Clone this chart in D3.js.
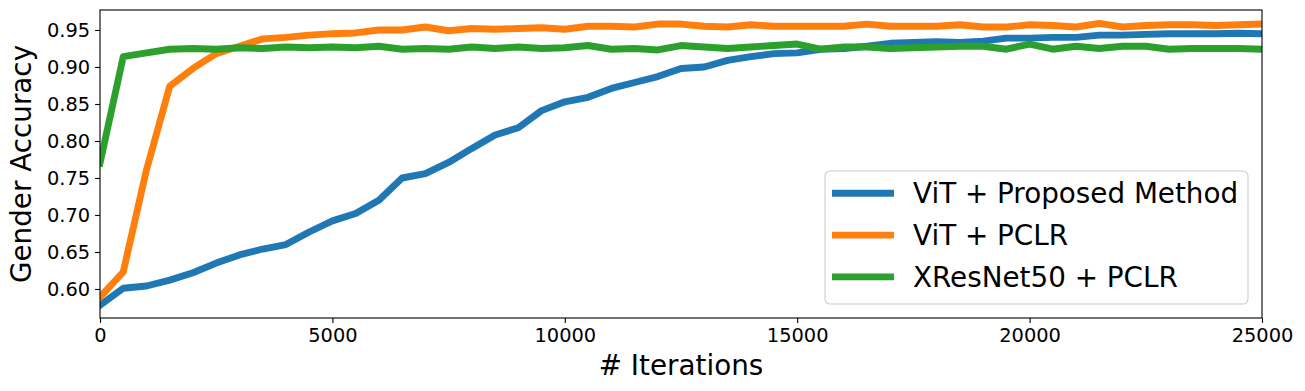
<!DOCTYPE html>
<html>
<head>
<meta charset="utf-8">
<script src="https://cdn.jsdelivr.net/npm/d3@7"></script>
<style>
  body { margin: 0; background: #fff; }
  svg { display: block; font-family: "DejaVu Sans", sans-serif; }
</style>
</head>
<body>
<div id="chart"></div>
<script>
// iterations (x)
const iterations = [0, 500, 1000, 1500, 2000, 2500, 3000, 3500, 4000, 4500,
  5000, 5500, 6000, 6500, 7000, 7500, 8000, 8500, 9000, 9500,
  10000, 10500, 11000, 11500, 12000, 12500, 13000, 13500, 14000, 14500,
  15000, 15500, 16000, 16500, 17000, 17500, 18000, 18500, 19000, 19500,
  20000, 20500, 21000, 21500, 22000, 22500, 23000, 23500, 24000, 24500, 25000];

const vitProposed = [0.578, 0.601, 0.604, 0.612, 0.622, 0.635, 0.646, 0.654, 0.660, 0.677,
  0.692, 0.702, 0.720, 0.750, 0.756, 0.771, 0.790, 0.808, 0.818, 0.841,
  0.853, 0.859, 0.871, 0.879, 0.887, 0.898, 0.900, 0.909, 0.914, 0.918,
  0.919, 0.924, 0.925, 0.928, 0.932, 0.933, 0.934, 0.933, 0.935, 0.939,
  0.939, 0.940, 0.940, 0.943, 0.943, 0.944, 0.945, 0.945, 0.945, 0.9455, 0.945];

const vitPclr = [0.589, 0.623, 0.761, 0.874, 0.898, 0.918, 0.928, 0.938, 0.940, 0.943,
  0.945, 0.946, 0.950, 0.950, 0.954, 0.949, 0.952, 0.951, 0.952, 0.953,
  0.951, 0.955, 0.955, 0.954, 0.958, 0.958, 0.955, 0.954, 0.957, 0.955,
  0.955, 0.955, 0.955, 0.958, 0.955, 0.955, 0.955, 0.957, 0.954, 0.954,
  0.957, 0.956, 0.954, 0.959, 0.954, 0.956, 0.957, 0.957, 0.956, 0.957, 0.958];

const xresPclr = [0.770, 0.914, 0.919, 0.924, 0.925, 0.924, 0.926, 0.925, 0.927, 0.926,
  0.927, 0.926, 0.928, 0.924, 0.925, 0.924, 0.927, 0.925, 0.927, 0.925,
  0.926, 0.929, 0.924, 0.925, 0.923, 0.929, 0.927, 0.925, 0.927, 0.929,
  0.931, 0.924, 0.927, 0.927, 0.925, 0.926, 0.927, 0.928, 0.928, 0.924,
  0.931, 0.924, 0.928, 0.925, 0.928, 0.928, 0.924, 0.925, 0.925, 0.925, 0.924];

const seriesNames = ["ViT + Proposed Method", "ViT + PCLR", "XResNet50 + PCLR"];
const seriesColors = ["#1f77b4", "#ff7f0e", "#2ca02c"];
const xTicks = [0, 5000, 10000, 15000, 20000, 25000];
const yTicks = [0.60, 0.65, 0.70, 0.75, 0.80, 0.85, 0.90, 0.95];

const width = 1305, height = 391;
const margin = {top: 10, right: 43, bottom: 73, left: 100};

const svg = d3.select("#chart").append("svg")
    .attr("width", width)
    .attr("height", height);

let x = d3.scaleLinear()
    .domain([0, 25000])
    .range([margin.left, width - margin.right]);

let y = d3.scaleLinear()
    .domain([0.5608, 0.977])
    .range([height - margin.bottom, margin.top]);

//xAxis
let xAxis = svg.append("g")
    .attr("transform", "translate(0," + (height - margin.bottom) + ")")
    .call(d3.axisBottom(x).tickValues(xTicks).tickFormat(d3.format("d")).tickSize(4.9).tickPadding(4.9));
xAxis.select(".domain").remove();
xAxis.selectAll("line").attr("stroke", "#000").attr("stroke-width", 1.1);
xAxis.selectAll("text").attr("font-size", "19.4px").attr("fill", "#000").attr("font-family", "DejaVu Sans");

//yAxis
let yAxis = svg.append("g")
    .attr("transform", "translate(" + margin.left + ",0)")
    .call(d3.axisLeft(y).tickValues(yTicks).tickFormat(d3.format(".2f")).tickSize(4.9).tickPadding(4.9));
yAxis.select(".domain").remove();
yAxis.selectAll("line").attr("stroke", "#000").attr("stroke-width", 1.1);
yAxis.selectAll("text").attr("font-size", "19.4px").attr("fill", "#000").attr("font-family", "DejaVu Sans");

// clip for lines
svg.append("clipPath").attr("id", "plotclip")
  .append("rect")
    .attr("x", margin.left)
    .attr("y", margin.top)
    .attr("width", width - margin.left - margin.right)
    .attr("height", height - margin.top - margin.bottom);

let line = d3.line()
    .x((d, i) => x(iterations[i]))
    .y(d => y(d));

[vitProposed, vitPclr, xresPclr].forEach(function(vals, k) {
  svg.append("path")
      .datum(vals)
      .attr("d", line)
      .attr("clip-path", "url(#plotclip)")
      .attr("fill", "none")
      .attr("stroke", seriesColors[k])
      .attr("stroke-width", 6.9)
      .attr("stroke-linejoin", "round")
      .attr("stroke-linecap", "square");
});

// frame
svg.append("rect")
    .attr("x", margin.left)
    .attr("y", margin.top)
    .attr("width", width - margin.left - margin.right)
    .attr("height", height - margin.top - margin.bottom)
    .attr("fill", "none")
    .attr("stroke", "#000")
    .attr("stroke-width", 1.1);

// axis labels
svg.append("text")
    .attr("x", (margin.left + width - margin.right) / 2)
    .attr("y", 375)
    .attr("text-anchor", "middle")
    .attr("font-size", "27.8px")
    .text("# Iterations");

svg.append("text")
    .attr("transform", "translate(30.5," + ((margin.top + height - margin.bottom) / 2) + ")rotate(-90)")
    .attr("text-anchor", "middle")
    .attr("font-size", "27.8px")
    .text("Gender Accuracy");

// legend
let legend = svg.append("g");
legend.append("rect")
    .attr("x", 825)
    .attr("y", 171)
    .attr("width", 423)
    .attr("height", 133)
    .attr("rx", 5)
    .attr("fill", "#fff")
    .attr("fill-opacity", 0.8)
    .attr("stroke", "#cccccc")
    .attr("stroke-width", 1.1);

seriesNames.forEach(function(name, k) {
  let ly = 193.3 + k * 41.8;
  legend.append("line")
      .attr("x1", 832).attr("x2", 894)
      .attr("y1", ly).attr("y2", ly)
      .attr("stroke", seriesColors[k])
      .attr("stroke-width", 6.9);
  legend.append("text")
      .attr("x", 913)
      .attr("y", ly + 10)
      .attr("font-size", "27.8px")
      .text(name);
});
</script>
</body>
</html>
